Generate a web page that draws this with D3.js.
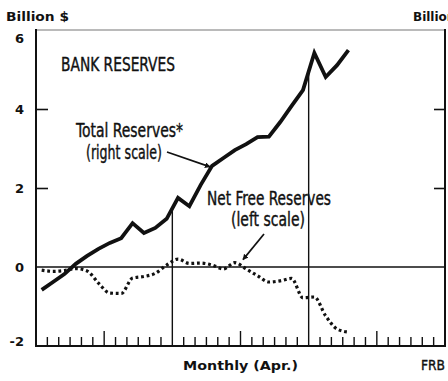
<!DOCTYPE html>
<html>
<head>
<meta charset="utf-8">
<script src="https://cdn.jsdelivr.net/npm/d3@7"></script>
<style>
  html, body { margin: 0; padding: 0; background: #fff; }
  svg { display: block; }
  .bold { font-family: "DejaVu Sans", sans-serif; font-weight: 700; fill: #111; }
  .narrow { font-family: "DejaVu Sans Condensed", "DejaVu Sans", sans-serif; fill: #111; stroke: #111; stroke-width: 0.4px; }
</style>
</head>
<body>
<svg id="chart" width="448" height="381"></svg>
<script>
// Monthly observations, Jan. 1971 through Apr. 1973
const months = [
  "Jan 71", "Feb 71", "Mar 71", "Apr 71", "May 71", "Jun 71", "Jul 71", "Aug 71", "Sep 71", "Oct 71", "Nov 71", "Dec 71",
  "Jan 72", "Feb 72", "Mar 72", "Apr 72", "May 72", "Jun 72", "Jul 72", "Aug 72", "Sep 72", "Oct 72", "Nov 72", "Dec 72",
  "Jan 73", "Feb 73", "Mar 73", "Apr 73"
];

// Total reserves, billions of dollars (right scale)
const totalReserves = [
  27.42, 27.62, 27.82, 28.08, 28.28, 28.46, 28.61, 28.73, 29.11, 28.86, 28.99, 29.22,
  29.75, 29.54, 30.08, 30.56, 30.76, 30.96, 31.11, 31.29, 31.30, 31.67, 32.08, 32.48,
  33.42, 32.81, 33.11, 33.49
];

// Net free reserves, billions of dollars (left scale)
const netFreeReserves = [
  -0.08, -0.11, -0.09, -0.04, -0.10, -0.41, -0.66, -0.67, -0.28, -0.24, -0.16, 0.05,
  0.20, 0.09, 0.10, 0.05, -0.05, 0.11, -0.05, -0.22, -0.38, -0.35, -0.29, -0.78,
  -0.76, -1.24, -1.57, -1.65
];

const leftTicks = [-2, 0, 2, 4, 6];
const leftTickLabels = ["-2", "0", "2", "4", "6"];
const rightTicks = [30, 32];

const svg = d3.select("#chart");
const mLeft = 36, mRight = 445, mTop = 30, mBottom = 346;
const nMonths = 36;

const x = d3.scaleLinear().domain([0, nMonths]).range([mLeft, mRight]);
const yL = d3.scaleLinear().domain([-2, 6]).range([mBottom, mTop]);
const yR = d3.scaleLinear().domain([26, 34]).range([mBottom, mTop]);

// Frame
svg.append("line").attr("x1", mLeft).attr("x2", mRight).attr("y1", mTop).attr("y2", mTop)
  .attr("stroke", "#777").attr("stroke-width", 1.2);
svg.append("line").attr("x1", mLeft).attr("x2", mLeft).attr("y1", mTop - 1).attr("y2", mBottom + 1)
  .attr("stroke", "#111").attr("stroke-width", 2);
svg.append("line").attr("x1", mRight).attr("x2", mRight).attr("y1", mTop - 1).attr("y2", mBottom + 1)
  .attr("stroke", "#111").attr("stroke-width", 2);
svg.append("line").attr("x1", mLeft - 1).attr("x2", mRight + 1).attr("y1", mBottom).attr("y2", mBottom)
  .attr("stroke", "#111").attr("stroke-width", 2);

// Zero line
svg.append("line").attr("x1", mLeft).attr("x2", mRight).attr("y1", yL(0)).attr("y2", yL(0))
  .attr("stroke", "#111").attr("stroke-width", 1.6);

// Left axis: inward ticks at interior values, labels outside
const leftAxis = d3.axisRight(yL).tickValues([2, 4]).tickSize(12).tickFormat("");
const gL = svg.append("g").attr("transform", `translate(${mLeft},0)`).call(leftAxis);
gL.select(".domain").remove();
gL.selectAll(".tick line").attr("stroke", "#111").attr("stroke-width", 1.6);

// End labels are pulled inside the frame
svg.selectAll("text.ylab").data(leftTicks).join("text")
  .attr("class", "ylab bold")
  .attr("x", 24).attr("y", d => Math.max(mTop + 8, Math.min(mBottom - 5, yL(d))))
  .attr("text-anchor", "end").attr("dominant-baseline", "central")
  .attr("font-size", 13)
  .text((d, i) => leftTickLabels[i]);

// Right axis ticks
const rightAxis = d3.axisLeft(yR).tickValues(rightTicks).tickSize(11).tickFormat("");
const gR = svg.append("g").attr("transform", `translate(${mRight},0)`).call(rightAxis);
gR.select(".domain").remove();
gR.selectAll(".tick line").attr("stroke", "#111").attr("stroke-width", 1.6);

// Month ticks along the bottom, taller at mid-year
const monthBounds = d3.range(1, nMonths).filter(k => k % 12 !== 0);
svg.append("g").selectAll("line").data(monthBounds).join("line")
  .attr("x1", d => x(d)).attr("x2", d => x(d))
  .attr("y1", mBottom).attr("y2", d => mBottom - (d % 12 === 6 ? 15 : 9))
  .attr("stroke", "#111").attr("stroke-width", 1.4);

// Year dividers, drawn up to the total-reserves line
const totalAt = k => {
  const i0 = Math.floor(k - 0.5), t = (k - 0.5) - i0;
  return totalReserves[i0] * (1 - t) + totalReserves[i0 + 1] * t;
};
svg.append("g").selectAll("line").data([12, 24]).join("line")
  .attr("x1", d => x(d)).attr("x2", d => x(d))
  .attr("y1", mBottom).attr("y2", d => yR(totalAt(d)))
  .attr("stroke", "#111").attr("stroke-width", 1.4);

// Series
const netLine = d3.line()
  .x((d, i) => x(i + 0.5)).y(d => yL(d))
  .curve(d3.curveMonotoneX);
svg.append("path").datum(netFreeReserves)
  .attr("d", netLine).attr("fill", "none")
  .attr("stroke", "#111").attr("stroke-width", 3.2)
  .attr("stroke-dasharray", "2.8 2.8");

const totLine = d3.line()
  .x((d, i) => x(i + 0.5)).y(d => yR(d));
svg.append("path").datum(totalReserves)
  .attr("d", totLine).attr("fill", "none")
  .attr("stroke", "#111").attr("stroke-width", 3.8)
  .attr("stroke-linejoin", "miter").attr("stroke-linecap", "butt");

// Titles and labels
function label(cls, x0, y0, size, len, str) {
  return svg.append("text").attr("class", cls)
    .attr("x", x0).attr("y", y0).attr("font-size", size)
    .attr("textLength", len).attr("lengthAdjust", "spacingAndGlyphs")
    .text(str);
}
label("bold", 6, 21, 12, 63, "Billion $");
svg.append("text").attr("class", "bold").attr("x", 413).attr("y", 21)
  .attr("font-size", 12).text("Billion $");

label("narrow", 61, 71, 19.5, 114, "BANK RESERVES");
label("narrow", 76, 137, 19.5, 107, "Total Reserves*");
label("narrow", 86, 159, 19.5, 76, "(right scale)");
label("narrow", 207, 205, 19, 124, "Net Free Reserves");
label("narrow", 231, 226, 19, 74, "(left scale)");

label("bold", 183, 370, 13, 115, "Monthly (Apr.)");
label("narrow", 421, 370, 14.5, 24, "FRB");

// Arrows pointing at the series
const defs = svg.append("defs");
defs.append("marker").attr("id", "head")
  .attr("viewBox", "0 0 10 10").attr("refX", 9).attr("refY", 5)
  .attr("markerWidth", 3.4).attr("markerHeight", 3.4).attr("orient", "auto")
  .append("path").attr("d", "M0,0 L10,5 L0,10 Z").attr("fill", "#111");

svg.append("line")
  .attr("x1", 167).attr("y1", 152)
  .attr("x2", x(15.5) - 2).attr("y2", yR(totalReserves[15]) + 1)
  .attr("stroke", "#111").attr("stroke-width", 1.7).attr("marker-end", "url(#head)");
svg.append("line")
  .attr("x1", 264).attr("y1", 234)
  .attr("x2", 243).attr("y2", yL(netFreeReserves[17]) - 3)
  .attr("stroke", "#111").attr("stroke-width", 1.7).attr("marker-end", "url(#head)");
</script>
</body>
</html>
